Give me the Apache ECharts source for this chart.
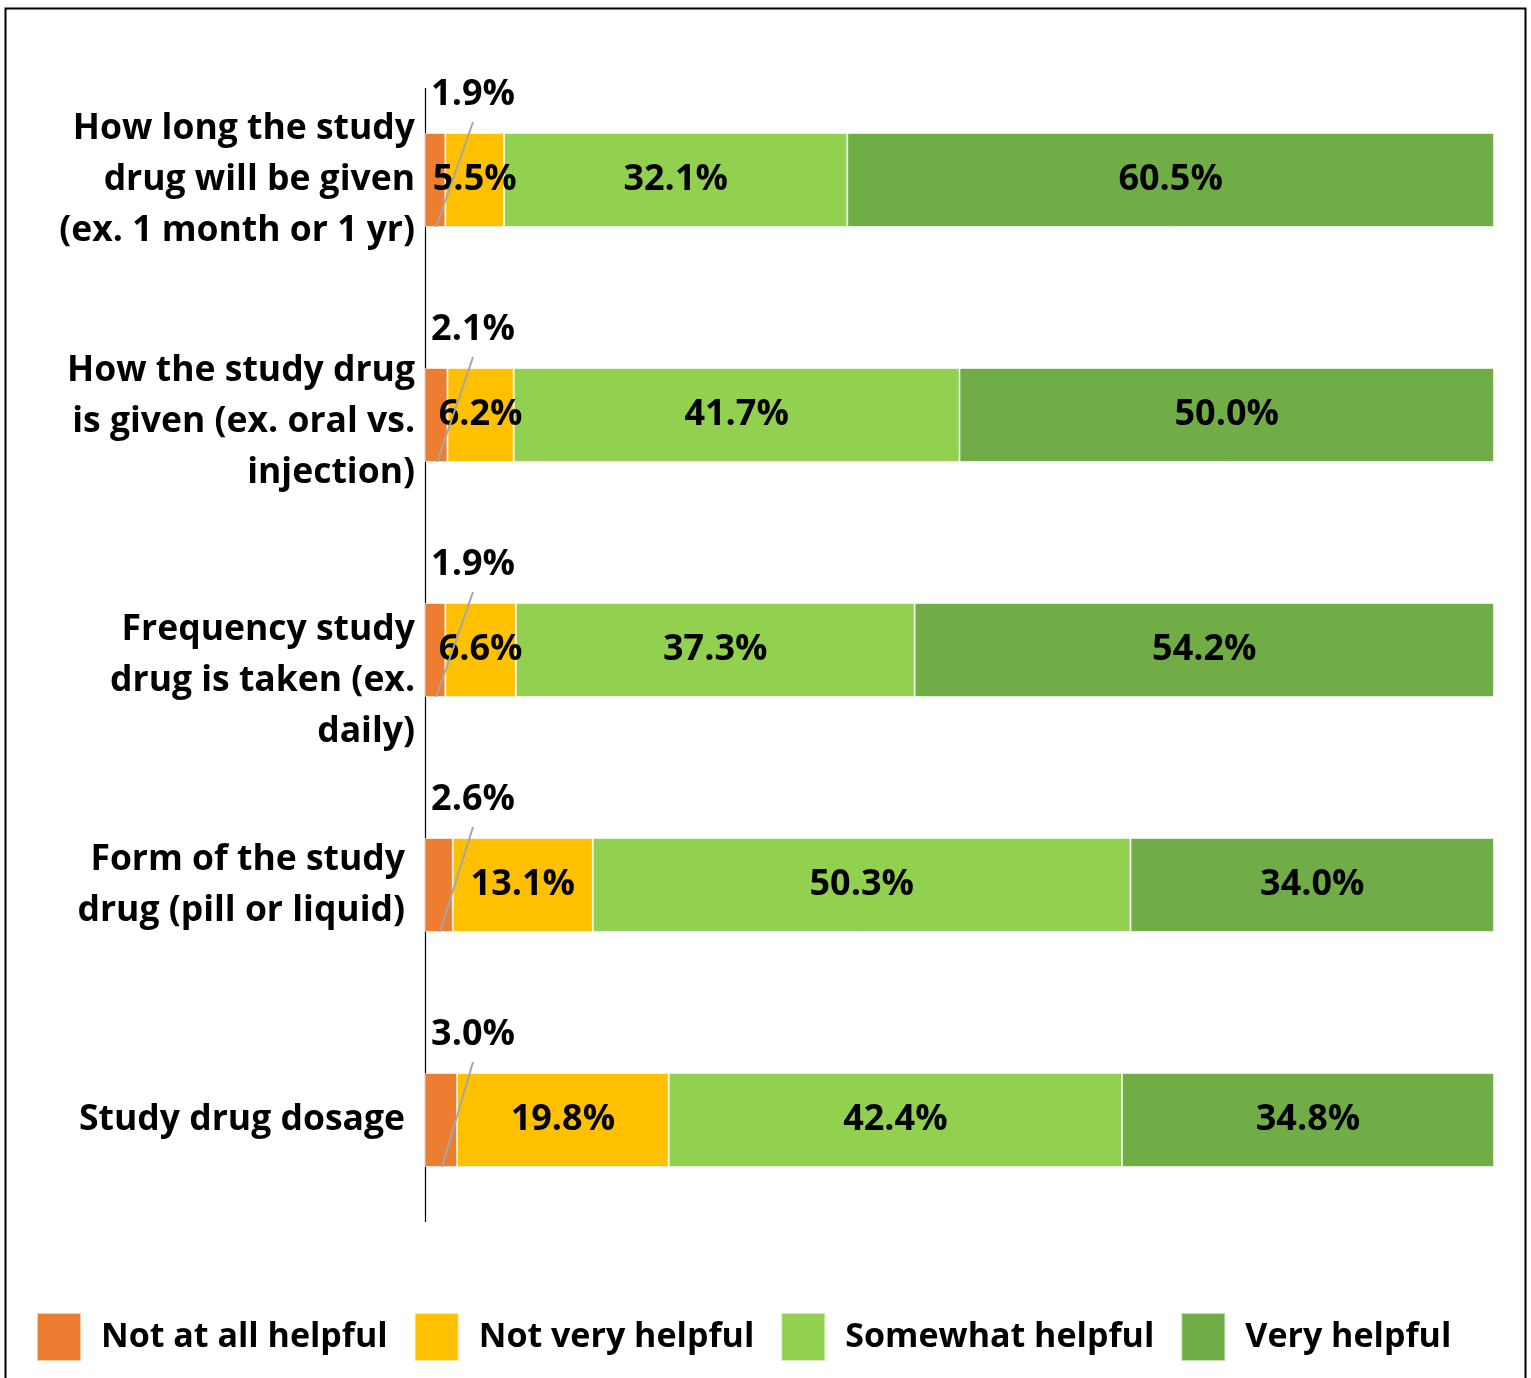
<!DOCTYPE html>
<html>
<head>
    <meta charset="utf-8">
    <title>Study drug information helpfulness</title>
    <script src="https://cdn.jsdelivr.net/npm/echarts@6/dist/echarts.min.js"></script>
    <style>
        html, body { margin: 0; padding: 0; background: #fff; }
        #main { width: 1531px; height: 1378px; }
    </style>
</head>
<body>
    <div id="main"></div>
    <script type="text/javascript">
        // categories, top to bottom
        var categories = [
            'How long the study\ndrug will be given\n(ex. 1 month or 1 yr)',
            'How the study drug\nis given (ex. oral vs.\ninjection)',
            'Frequency study\ndrug is taken (ex.\ndaily)',
            'Form of the study\ndrug (pill or liquid)',
            'Study drug dosage'
        ];
        var seriesNames = ['Not at all helpful', 'Not very helpful', 'Somewhat helpful', 'Very helpful'];
        var notAtAll = [1.9, 2.1, 1.9, 2.6, 3.0];
        var notVery = [5.5, 6.2, 6.6, 13.1, 19.8];
        var somewhat = [32.1, 41.7, 37.3, 50.3, 42.4];
        var very = [60.5, 50.0, 54.2, 34.0, 34.8];
        var colors = ['#ED7D31', '#FFC000', '#92D050', '#70AD47'];

        var FONT = '"Open Sans"';
        var VAL_FS = 36;     // data labels
        var CAT_FS = 35.5;   // category labels
        var LEG_FS = 34;     // legend
        var myChart = echarts.init(document.getElementById('main'));

        // leader line + label above the small first segment
        function renderLeader(params, api) {
            var v = api.value(0);
            var c = api.value(1);
            var mid = api.coord([v / 2, c]);
            var left = api.coord([0, c])[0];
            var h = api.size([0, 1])[1] * 0.4;
            var top = mid[1] - h / 2;
            return {
                type: 'group',
                children: [{
                    type: 'line',
                    shape: { x1: mid[0] + 1, y1: mid[1] + h / 2, x2: left + 48, y2: top - 11 },
                    style: { stroke: '#a6a6a6', lineWidth: 2 }
                }, {
                    type: 'text',
                    style: {
                        x: left + 48,
                        y: top - 38,
                        text: v.toFixed(1) + '%',
                        fill: '#000',
                        font: 'bold ' + VAL_FS + 'px ' + FONT,
                        align: 'center',
                        verticalAlign: 'middle'
                    }
                }]
            };
        }

        function barSeries(name, data, color, showLabel) {
            return {
                name: name,
                type: 'bar',
                stack: 'total',
                barCategoryGap: '60%',
                data: data,
                itemStyle: { color: color, borderColor: 'rgba(255,255,255,0.6)', borderWidth: 1 },
                label: {
                    show: showLabel,
                    position: 'inside',
                    color: '#000',
                    fontFamily: FONT,
                    fontWeight: 'bold',
                    fontSize: VAL_FS,
                    formatter: function (p) { return p.value.toFixed(1) + '%'; }
                },
                emphasis: { disabled: true },
                silent: true
            };
        }

        var leaderData = notAtAll.map(function (v, i) { return [v, i]; });

        var labelStyle = { fontFamily: FONT, fontWeight: 'bold', fontSize: CAT_FS, color: '#000', lineHeight: 51, align: 'right' };
        // extra space above some labels, as in the original layout
        var labelShift = [0, 14, 62, 0, 0];

        var option = {
            backgroundColor: '#fff',
            animation: false,
            grid: {
                left: 425,
                top: 62.5,
                width: 1069,
                height: 1175,
                outerBoundsMode: 'none'
            },
            xAxis: {
                type: 'value',
                min: 0,
                max: 100,
                show: false
            },
            yAxis: {
                type: 'category',
                inverse: true,
                data: categories,
                axisLine: { show: false },
                axisTick: { show: false },
                splitLine: { show: false },
                axisLabel: {
                    margin: 10,
                    formatter: function (value, idx) {
                        var tag = idx >= 3 ? 'b' : 'a';
                        var lines = value.split('\n').map(function (l) { return '{' + tag + '|' + l + '}'; });
                        if (labelShift[idx]) lines.unshift('{s' + idx + '| }');
                        return lines.join('\n');
                    },
                    rich: {
                        a: labelStyle,
                        b: Object.assign({}, labelStyle, { padding: [0, 10, 0, 0] }),
                        s1: { fontSize: 1, lineHeight: labelShift[1] },
                        s2: { fontSize: 1, lineHeight: labelShift[2] }
                    }
                }
            },
            legend: {
                data: seriesNames,
                left: 36,
                top: 1312,
                padding: 0,
                icon: 'rect',
                itemWidth: 44,
                itemHeight: 48,
                itemGap: 26,
                selectedMode: false,
                textStyle: {
                    fontFamily: FONT,
                    fontWeight: 'bold',
                    fontSize: LEG_FS,
                    color: '#000',
                    padding: [0, 0, 0, 15]
                }
            },
            graphic: [{
                type: 'rect',
                shape: { x: 5.5, y: 8.5, width: 1520, height: 1420 },
                style: { fill: 'none', stroke: '#000', lineWidth: 2 },
                silent: true
            }, {
                type: 'line',
                shape: { x1: 425.5, y1: 88, x2: 425.5, y2: 1222 },
                style: { stroke: '#000', lineWidth: 1.2 },
                silent: true
            }],
            series: [
                barSeries(seriesNames[0], notAtAll, colors[0], false),
                barSeries(seriesNames[1], notVery, colors[1], true),
                barSeries(seriesNames[2], somewhat, colors[2], true),
                barSeries(seriesNames[3], very, colors[3], true),
                {
                    type: 'custom',
                    coordinateSystem: 'cartesian2d',
                    renderItem: renderLeader,
                    encode: { x: 0, y: 1 },
                    data: leaderData,
                    silent: true,
                    z: 5
                }
            ]
        };
        myChart.setOption(option);
    </script>
</body>
</html>
